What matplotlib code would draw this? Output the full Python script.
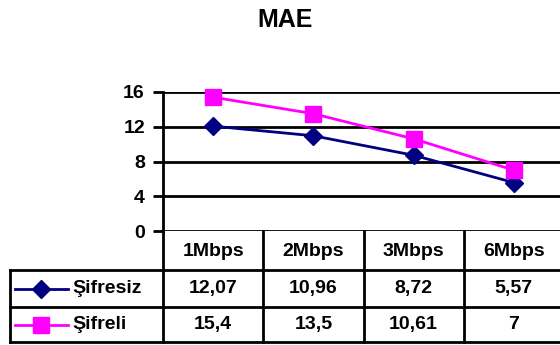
import matplotlib.pyplot as plt
from matplotlib.lines import Line2D
from matplotlib.transforms import blended_transform_factory

plt.rcParams['font.family'] = ['Liberation Sans', 'DejaVu Sans']
plt.rcParams['font.weight'] = 'bold'

speeds = ['1Mbps', '2Mbps', '3Mbps', '6Mbps']
series_names = ['Şifresiz', 'Şifreli']
sifresiz = [12.07, 10.96, 8.72, 5.57]
sifreli = [15.4, 13.5, 10.61, 7]
value_labels = [['12,07', '10,96', '8,72', '5,57'],
                ['15,4', '13,5', '10,61', '7']]
yticks = [0, 4, 8, 12, 16]

W, H = 560, 345
FS = 14
fig = plt.figure(figsize=(W / 100, H / 100), dpi=100)

def fy(py):
    return 1 - py / H

def fx(px):
    return px / W

# plot area in pixel coordinates (right edge runs past the figure)
left, right, top, bottom = 163, 564, 92, 231
ax = fig.add_axes([fx(left), fy(bottom), fx(right - left), fy(top) - fy(bottom)])
ax.set_xlim(0, len(speeds))
ax.set_ylim(0, 16)

for s in ax.spines.values():
    s.set_visible(False)
ax.spines['left'].set_visible(True)
ax.spines['left'].set_linewidth(2)
ax.set_yticks(yticks)
ax.set_yticklabels([str(v) for v in yticks], fontsize=FS, fontweight='bold')
ax.tick_params(axis='y', length=7, width=2, pad=6)
ax.set_xticks([])
for v in yticks:
    ax.axhline(v, color='black', lw=2, zorder=1)

xs = [i + 0.5 for i in range(len(speeds))]
ax.plot(xs, sifresiz, color='#000080', lw=2, marker='D', ms=9.5, zorder=3)
ax.plot(xs, sifreli, color='#FF00FF', lw=2, marker='s', ms=11, zorder=3, clip_on=False)

fig.text(fx(285), fy(20), 'MAE', fontsize=18, fontweight='bold', ha='center', va='center')

# data table under the plot
tr = blended_transform_factory(ax.transData, fig.transFigure)
row_y = [231, 270, 307, 342]
for i in range(len(speeds) + 1):
    fig.add_artist(Line2D([i, i], [fy(row_y[0]), fy(row_y[-1])], transform=tr,
                          color='black', lw=2))
for py in row_y[1:]:
    fig.add_artist(Line2D([fx(10), fx(W)], [fy(py), fy(py)], color='black', lw=2))
fig.add_artist(Line2D([fx(10), fx(10)], [fy(row_y[1]), fy(row_y[-1])], color='black', lw=2))

for i, sp in enumerate(speeds):
    fig.text(i + 0.5, fy(251), sp, transform=tr, ha='center', va='center',
             fontsize=FS, fontweight='bold')

styles = [('#000080', 'D', 9.5), ('#FF00FF', 's', 11)]
for r, name in enumerate(series_names):
    cy = fy((row_y[r + 1] + row_y[r + 2]) / 2)
    color, mk, ms = styles[r]
    fig.add_artist(Line2D([fx(15), fx(68)], [cy, cy], color=color, lw=2))
    fig.add_artist(Line2D([fx(41)], [cy], color=color, marker=mk, ms=ms, lw=0))
    fig.text(fx(72), cy, name, ha='left', va='center', fontsize=FS, fontweight='bold')
    for i, lab in enumerate(value_labels[r]):
        fig.text(i + 0.5, cy, lab, transform=tr, ha='center', va='center',
                 fontsize=FS, fontweight='bold')

fig.savefig('out.png', dpi=100)
